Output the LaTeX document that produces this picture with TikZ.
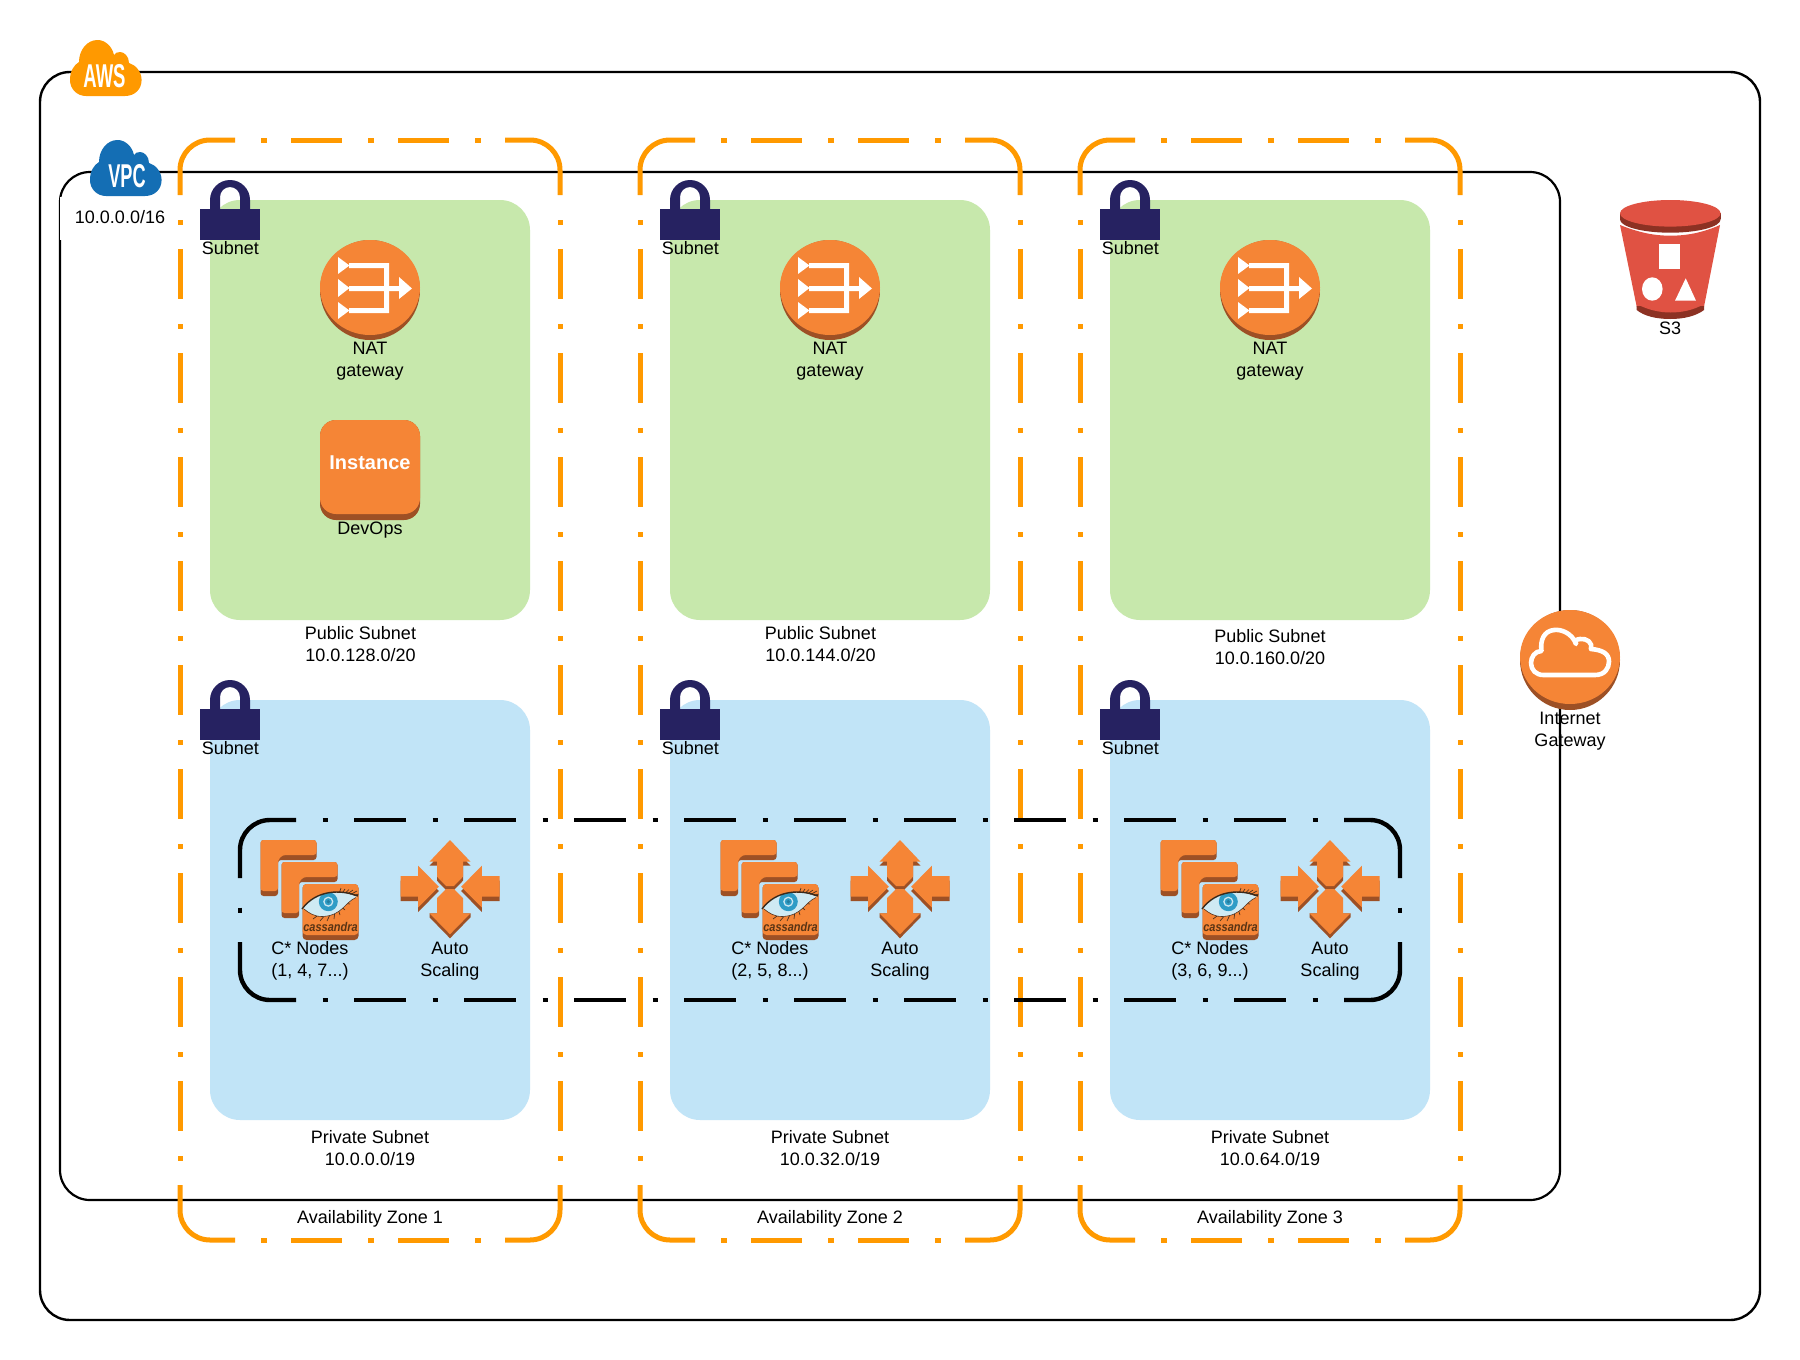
\documentclass[tikz,border=0pt]{standalone}
\usepackage{fontspec}
\usepackage{graphicx}
\setmainfont{Liberation Sans}
\definecolor{azorange}{HTML}{FF9900}
\definecolor{icono}{HTML}{F58536}
\definecolor{icond}{HTML}{9D5025}
\definecolor{pubgreen}{HTML}{C7E8AC}
\definecolor{privblue}{HTML}{C1E4F7}
\definecolor{locknavy}{HTML}{262261}
\definecolor{vpcblue}{HTML}{146EB4}
\definecolor{sred}{HTML}{E05243}
\definecolor{sdark}{HTML}{8C3123}
\definecolor{eyepale}{HTML}{CFEAF3}
\definecolor{eyeiris}{HTML}{2F9CC6}
\definecolor{eyelid}{HTML}{3A2A1C}
\definecolor{casstext}{HTML}{5A3414}
\tikzset{
  x=1pt,y=-1pt,
  every node/.style={inner sep=0pt,outer sep=0pt,align=center,font=\fontsize{18}{22}\selectfont,text=black},
  azline/.style={draw=azorange,line width=5pt},
  ringline/.style={draw=black,line width=4.4pt},
  subnetbox/.style={rounded corners=30pt},
}
\newcommand{\azframe}[2]{% #1 = left edge, #2 = number
  \begin{scope}[shift={(#1,0)}]
    \draw[azline,rounded corners=30pt] (0,195)--(0,140)--(55,140);
    \draw[azline,rounded corners=30pt] (325,140)--(380,140)--(380,195);
    \draw[azline,rounded corners=30pt] (0,1185)--(0,1240)--(55,1240);
    \draw[azline,rounded corners=30pt] (325,1240)--(380,1240)--(380,1185);
    \foreach \yy in {140,1240}
      \draw[azline,dash pattern=on 6pt off 24pt on 51pt off 26pt] (81,\yy)--(301,\yy);
    \foreach \xx in {0,380}
      \draw[azline,dash pattern=on 5pt off 24pt on 50pt off 25pt] (\xx,220)--(\xx,1162);
    \node (azlabel#2) at (190,1219.3) {Availability Zone #2};
  \end{scope}}
\newcommand{\lockicon}[3]{% #1 x center, #2 y offset, #3 name
  \begin{scope}[shift={(#1,#2)}]
    \fill[locknavy] (-30,209) rectangle (30,240);
    \fill[locknavy] (-20,212) -- (-20,200) arc[start angle=180,end angle=360,radius=20] -- (20,212) -- (10,212) -- (10,197) arc[start angle=0,end angle=-180,radius=10] -- (-10,212) -- cycle;
    \node (lock#3) at (0.3,248) {Subnet};
  \end{scope}}
\newcommand{\naticon}[2]{% #1 center x, #2 name
  \begin{scope}[shift={(#1,0)}]
    \fill[icond] (0,290) circle[radius=50];
    \fill[icono] (0,287.5) ellipse[x radius=50,y radius=47.5];
    \fill[white] (-32,257)--(-20.5,265.5)--(-32,274)--cycle;
    \fill[white] (-32,279)--(-20.5,288)--(-32,297)--cycle;
    \fill[white] (-32,302)--(-20.5,310.5)--(-32,319)--cycle;
    \fill[white] (-21,263)--(19,263)--(19,313)--(-21,313)--(-21,308)--(14,308)--(14,291)--(-21,291)--(-21,286)--(14,286)--(14,268)--(-21,268)--cycle;
    \fill[white] (14,286)--(29,286)--(29,277)--(42,288.5)--(29,299)--(29,291)--(14,291)--cycle;
    \node (natlabel#2) at (0,361) {NAT\\gateway};
  \end{scope}}
\newcommand{\lpiece}[2]{%
  \begin{scope}[shift={(#1,#2)}]
    \fill[icond,rounded corners=3pt] (0,0)--(56,0)--(56,20)--(17.5,20)--(17.5,56)--(0,56)--cycle;
    \fill[icono,rounded corners=3pt] (0,0)--(56,0)--(56,15)--(22,15)--(17.5,20)--(17.5,51)--(0,51)--cycle;
  \end{scope}}
\newcommand{\nodeicon}[3]{% #1 shift x, #2 range text, #3 name
  \begin{scope}[shift={(#1,0)}]
    \lpiece{260.5}{840}
    \lpiece{281.5}{862}
    \fill[icond,rounded corners=4pt] (302.5,884)rectangle(358.5,940);
    \fill[icono,rounded corners=4pt] (302.5,884)rectangle(358.5,935);
    \foreach \ax/\ay in {341/888,345/889,349/889.5,353/890,357/891,358.5/894,350/904,345/910,340/915,334/919,327/921,320/921,313/919}
      \draw[eyelid,line width=.6pt] (336,902)--(\ax,\ay);
    \fill[eyepale] (303,908) .. controls (316,890) and (340,889) .. (357,897) .. controls (345,902) and (342,916) .. (322,916.5) .. controls (314,916.5) and (308,912) .. (303,908) -- cycle;
    \begin{scope}
      \clip (303,908) .. controls (316,890) and (340,889) .. (357,897) .. controls (345,902) and (342,916) .. (322,916.5) .. controls (314,916.5) and (308,912) .. (303,908) -- cycle;
      \fill[eyeiris] (328.3,901.7) circle[radius=9.5];
      \draw[white!75!eyeiris,line width=1.3pt] (328.3,901.7) circle[radius=4.4];
      \fill[eyeiris!80!black] (328.3,901.7) circle[radius=1.8];
    \end{scope}
    \draw[eyelid,line width=1.4pt] (302,909) .. controls (316,890) and (340,889) .. (358,896);
    \draw[eyelid!70!icond,line width=.6pt] (304,909) .. controls (309,913) and (314,916.5) .. (322,916.5) .. controls (342,916) and (345,902) .. (356,897.5);
    \node[text=casstext,font=\fontsize{11}{11}\itshape\bfseries\selectfont] (cassword#3) at (330.5,926.5) {\scalebox{1}[1.15]{cassandra}};
    \node (nodelabel#3) at (310,961.3) {C* Nodes\\(#2)};
  \end{scope}}
\newcommand{\scalearrows}[2]{% #1 center x, #2 name
  \begin{scope}[shift={(#1,0)}]
    \foreach \sx in {-1,1}{
      \fill[icond] (\sx*49.5,880.5)--(\sx*31.8,880.5)--(\sx*31.8,870)--(\sx*11.2,891)--(\sx*31.8,912)--(\sx*31.8,901.2)--(\sx*49.5,901.2)--cycle;
      \fill[icono] (\sx*49.5,876)--(\sx*31.8,876)--(\sx*31.8,865.7)--(\sx*11.2,886.7)--(\sx*31.8,907.3)--(\sx*31.8,896.7)--(\sx*49.5,896.7)--cycle;
    }
    \fill[icond] (0,844)--(20.5,865.7)--(13,865.7)--(13,880.7)--(4,890)--(-4,890)--(-13,880.7)--(-13,865.7)--(-20.5,865.7)--cycle;
    \fill[icono] (0,840)--(20.5,861.7)--(13,861.7)--(13,876.7)--(4,886)--(-4,886)--(-13,876.7)--(-13,861.7)--(-20.5,861.7)--cycle;
    \fill[icond] (0,938.3)--(20.5,917.3)--(20.5,913.3)--(-20.5,913.3)--(-20.5,917.3)--cycle;
    \fill[icono] (-4,889)--(4,889)--(13,898)--(13,913.3)--(20.5,913.3)--(0,934.3)--(-20.5,913.3)--(-13,913.3)--(-13,898)--cycle;
    \node (autolabel#2) at (0,961.3) {Auto\\Scaling};
  \end{scope}}
\newcommand{\cloudshape}{(86,96) -- (125,96) .. controls (135,96) and (141.6,89) .. (141.6,80) .. controls (141.6,72) and (136,65) .. (129,63) .. controls (129,56) and (124,52) .. (120,52) .. controls (117,52) and (115,53) .. (114,55) .. controls (112,46) and (105,40) .. (97.5,40) .. controls (87,40) and (79,50) .. (79,62) .. controls (74,65) and (70,71) .. (70,80) .. controls (70,89) and (77,96) .. (86,96) -- cycle}
\begin{document}
\begin{tikzpicture}
\useasboundingbox (0,0) rectangle (1800,1360);
\fill[white] (0,0) rectangle (1800,1360);
% outer AWS and VPC frames
\draw[line width=2.4pt,rounded corners=30pt] (40,72) rectangle (1760,1320);
\draw[line width=2.2pt,rounded corners=30pt] (60,172) rectangle (1560,1200);
\fill[white] (60,197) rectangle (176,240);
\node (vpccidr) at (120,217.5) {10.0.0.0/16};
% subnets
\foreach \zx in {180,640,1080}{
  \fill[pubgreen,subnetbox] (\zx+30,200) rectangle (\zx+350,620);
  \fill[privblue,subnetbox] (\zx+30,700) rectangle (\zx+350,1120);
}
% availability zones
\azframe{180}{1}
\azframe{640}{2}
\azframe{1080}{3}
% clouds
\fill[azorange] \cloudshape;
\node[text=white,font=\fontsize{33}{33}\bfseries\selectfont] (awsword) at (104.5,76) {\scalebox{0.56}[1]{AWS}};
\begin{scope}[shift={(20,100)}]
  \fill[vpcblue] \cloudshape;
\end{scope}
\node[text=white,font=\fontsize{33}{33}\bfseries\selectfont] (vpcword) at (127,176) {\scalebox{0.55}[1]{VPC}};
% locks
\lockicon{230}{0}{a}
\lockicon{690}{0}{b}
\lockicon{1130}{0}{c}
\lockicon{230}{500}{d}
\lockicon{690}{500}{e}
\lockicon{1130}{500}{f}
% NAT gateways
\naticon{370}{a}
\naticon{830}{b}
\naticon{1270}{c}
% instance
\fill[icond,rounded corners=16pt] (320,420) rectangle (420,520);
\fill[icono,rounded corners=16pt] (320,420) rectangle (420,514);
\node[text=white,font=\fontsize{20}{24}\bfseries\selectfont] (instanceword) at (370,462.5) {Instance};
\node (devops) at (370,530) {DevOps};
% public / private labels
\node (puba) at (360.5,644) {Public Subnet\\10.0.128.0/20};
\node (pubb) at (820.5,644) {Public Subnet\\10.0.144.0/20};
\node (pubc) at (1270,647.5) {Public Subnet\\10.0.160.0/20};
\node (priva) at (370,1148) {Private Subnet\\10.0.0.0/19};
\node (privb) at (830,1148) {Private Subnet\\10.0.32.0/19};
\node (privc) at (1270,1148) {Private Subnet\\10.0.64.0/19};
% cluster nodes and auto scaling
\nodeicon{0}{1, 4, 7...}{a}
\nodeicon{460}{2, 5, 8...}{b}
\nodeicon{900}{3, 6, 9...}{c}
\scalearrows{450}{a}
\scalearrows{900}{b}
\scalearrows{1330}{c}
% dashed cluster ring
\draw[ringline,rounded corners=30pt] (296,820)--(240,820)--(240,878);
\draw[ringline,rounded corners=30pt] (296,1000)--(240,1000)--(240,942);
\draw[ringline,rounded corners=30pt] (1344,820)--(1400,820)--(1400,878);
\draw[ringline,rounded corners=30pt] (1344,1000)--(1400,1000)--(1400,942);
\foreach \yy in {820,1000}
  \draw[ringline,dash pattern=on 5pt off 26.5pt on 52pt off 26.5pt] (322.5,\yy)--(1318,\yy);
\foreach \xx in {240,1400}
  \draw[ringline] (\xx,907.5)--(\xx,912.5);
% S3
\fill[sred] (1620,225) .. controls (1640,233) and (1655,235.7) .. (1670.3,235.7) .. controls (1686,235.7) and (1702,233) .. (1720,225) -- (1704,306.7) -- (1636.7,306.7) -- cycle;
\fill[sdark] (1636.7,306) -- (1704,306) -- (1704,310) .. controls (1696,316) and (1684,319) .. (1670.3,319) .. controls (1656,319) and (1644,316) .. (1636.7,310) -- cycle;
\fill[sred] (1636.7,304) .. controls (1648,310) and (1660,312.5) .. (1670.3,312.5) .. controls (1682,312.5) and (1694,310) .. (1704,304) -- cycle;
\fill[sdark] (1670.3,219.4) ellipse[x radius=50.3,y radius=13.3];
\fill[sdark] (1620,213.3) rectangle (1720.6,219.4);
\fill[sred] (1670.3,213.3) ellipse[x radius=50.3,y radius=13.3];
\fill[white] (1659,244.3) rectangle (1680,269);
\fill[white] (1652.3,289) ellipse[x radius=10.3,y radius=11.7];
\fill[white] (1685.7,278.3)--(1675,300.7)--(1696,300.7)--cycle;
\node (sthree) at (1670,328.5) {S3};
% internet gateway
\fill[icond] (1570,660) circle[radius=50];
\fill[icono] (1570,657) ellipse[x radius=50,y radius=47];
\draw[white,line width=4.6pt,line join=round] (1543.5,675) -- (1595,675) .. controls (1605,675) and (1609,668) .. (1609,661.5) .. controls (1609,654) and (1603,650) .. (1591,649) .. controls (1593,643) and (1587,638) .. (1580,639) .. controls (1573,640) and (1577,642) .. (1576,644) .. controls (1572,633) and (1561,629) .. (1554,630) .. controls (1544,631) and (1540,640) .. (1541.5,651) .. controls (1535,651) and (1531,657) .. (1531,663) .. controls (1531,670) and (1536,675) .. (1543.5,675) -- cycle;
\node (igwlabel) at (1570,731.3) {Internet\\Gateway};
\end{tikzpicture}
\end{document}
